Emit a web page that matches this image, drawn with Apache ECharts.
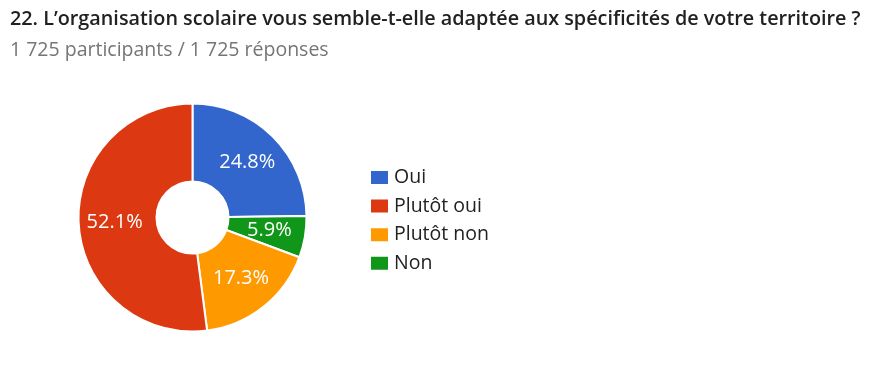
<!DOCTYPE html>
<html><head><meta charset="utf-8">
<script src="https://cdn.jsdelivr.net/npm/echarts@6/dist/echarts.min.js"></script>
<style>html,body{margin:0;padding:0;background:#fff}#c{width:869px;height:371px}</style>
</head><body><div id="c"></div>
<script>
const titleText = "22. L’organisation scolaire vous semble-t-elle adaptée aux spécificités de votre territoire ?";
const subtitleText = "1 725 participants / 1 725 réponses";
const sliceNames = ["Oui", "Non", "Plutôt non", "Plutôt oui"];
const sliceValues = [24.8, 5.9, 17.3, 52.1];
const sliceColors = ["#3366cc", "#109618", "#ff9900", "#dc3912"];
const legendOrder = ["Oui", "Plutôt oui", "Plutôt non", "Non"];

const chart = echarts.init(document.getElementById('c'));
chart.setOption({
  animation: false,
  title: {
    text: titleText, subtext: subtitleText, left: 10, top: 9, padding: 0, itemGap: 11,
    textStyle: {fontFamily: 'Open Sans', fontSize: 19.8, fontWeight: 600, color: '#212121'},
    subtextStyle: {fontFamily: 'Open Sans', fontSize: 19.5, color: '#757575'}
  },
  legend: {
    data: legendOrder, orient: 'vertical', left: 364, top: 162.5,
    itemWidth: 19, itemHeight: 15, itemGap: 8.6, icon: 'rect',
    textStyle: {fontFamily: 'Open Sans', fontSize: 19.5, color: '#222'}
  },
  series: [{
    type: 'pie', center: [192.5, 217.5], radius: [36, 114], startAngle: 90, clockwise: true,
    itemStyle: {borderColor: '#fff', borderWidth: 2},
    label: {position: 'inside', color: '#fff', fontFamily: 'Open Sans', fontSize: 20,
      formatter: p => p.value.toFixed(1) + '%'},
    labelLine: {show: false},
    data: sliceNames.map((n, i) => ({name: n, value: sliceValues[i], itemStyle: {color: sliceColors[i]}}))
  }]
});
</script></body></html>
